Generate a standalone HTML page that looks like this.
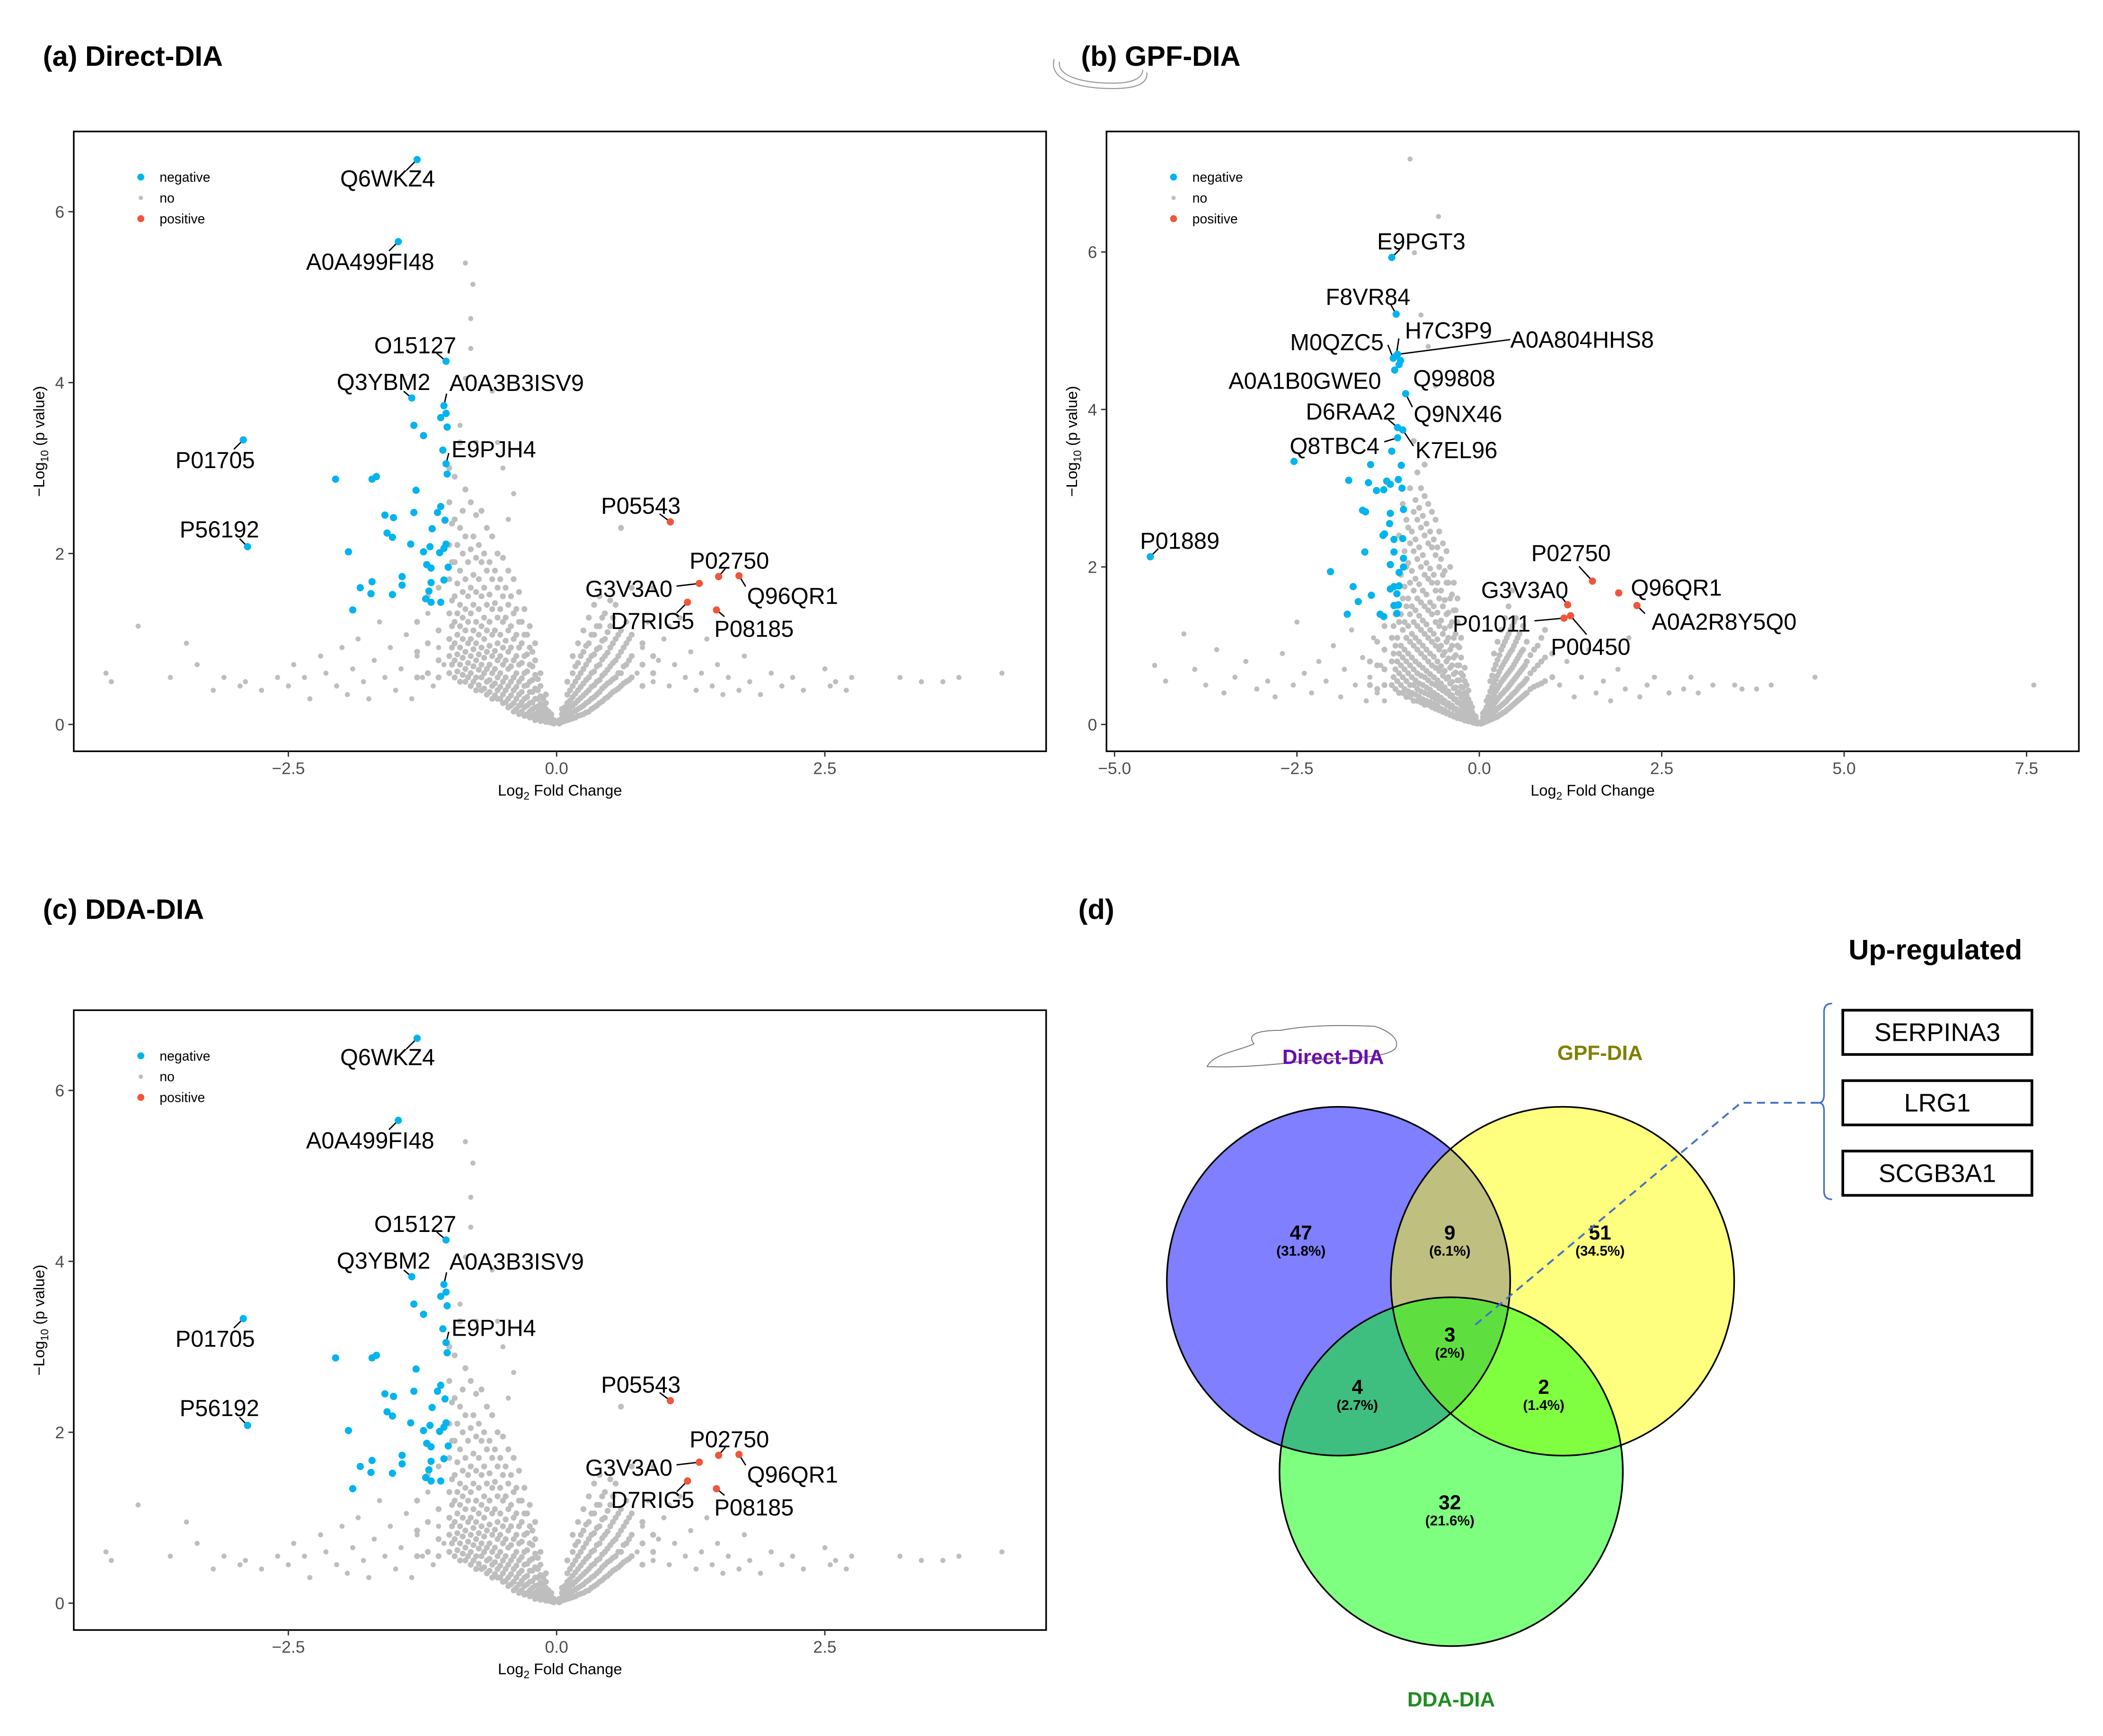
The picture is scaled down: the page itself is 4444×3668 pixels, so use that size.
<!DOCTYPE html>
<html><head><meta charset="utf-8">
<style>
html,body{margin:0;padding:0;background:#fff;}
svg{display:block;}
text{font-family:"Liberation Sans",Arial,sans-serif;}
</style></head>
<body>
<svg id="fig" xmlns="http://www.w3.org/2000/svg" width="4444" height="3668" viewBox="0 0 1568 1294" preserveAspectRatio="none">
<rect x="0" y="0" width="1568" height="1294" fill="#fff"/>
<text x="32" y="49" font-size="21" font-weight="bold">(a)  Direct-DIA</text>
<text x="806" y="49" font-size="21" font-weight="bold">(b)  GPF-DIA</text>
<text x="32" y="685" font-size="21" font-weight="bold">(c)  DDA-DIA</text>
<text x="804" y="685" font-size="21" font-weight="bold">(d)</text>
<path d="M786 44 C782 58 800 66 830 66 C848 66 856 62 855 54 M790 46 C788 56 805 62 830 62 C845 62 852 58 852 52" stroke="#999" stroke-width="0.8" fill="none"/>
<g id="pa"></g><g id="pb"></g><g id="pc"></g><g id="pd"></g>
</svg>
<script>
const NS='http://www.w3.org/2000/svg';
function mk(tag,attrs,parent){const e=document.createElementNS(NS,tag);for(const k in attrs)e.setAttribute(k,attrs[k]);parent.appendChild(e);return e;}

/* ---------- Panel A / C data (Direct-DIA, DDA-DIA) ---------- */
const xTicksA=[-2.5,0.0,2.5];
const xTickLabelsA=['\u22122.5','0.0','2.5'];
const yTicksA=[0,2,4,6];
const negA_x=[-1.08,-1.03,-1.02,-1.33,-1.24,-1.06,-1.02,-2.06,-1.72,-1.68,-1.31,-1.08,-1.11,-1.33,-1.60,-1.52,-1.04,-1.16,-1.58,-1.53,-1.36,-1.03,-1.05,-1.18,-1.09,-1.24,-1.94,-1.21,-1.17,-1.01,-1.44,-1.44,-1.72,-1.83,-1.05,-1.17,-1.19,-1.73,-1.53,-1.22,-1.17,-1.08,-1.90];
const negA_y=[3.59,3.64,3.48,3.50,3.38,3.21,2.93,2.87,2.87,2.90,2.74,2.55,2.48,2.48,2.45,2.42,2.39,2.29,2.24,2.19,2.11,2.11,2.06,2.08,2.01,2.02,2.02,1.87,1.83,1.84,1.73,1.63,1.67,1.60,1.69,1.66,1.56,1.53,1.52,1.47,1.43,1.43,1.34];
const labA_names=['Q6WKZ4','A0A499FI48','O15127','Q3YBM2','A0A3B3ISV9','E9PJH4','P01705','P56192','P05543','P02750','Q96QR1','G3V3A0','D7RIG5','P08185'];
const labA_x=[-1.30,-1.475,-1.03,-1.35,-1.05,-1.03,-2.92,-2.88,1.06,1.51,1.70,1.33,1.22,1.49];
const labA_y=[6.61,5.65,4.25,3.82,3.73,3.05,3.33,2.08,2.37,1.73,1.74,1.65,1.43,1.34];
const labA_type=['neg','neg','neg','neg','neg','neg','neg','neg','pos','pos','pos','pos','pos','pos'];
const labA_off=[[-22,14,'middle',-8,8],[-21,15,'middle',-7,7],[-23,-12,'middle',-7,-6],[-21,-12,'middle',-6,-5],[4,-17,'start',2,-9],[4,-11,'start',2,-8],[-21,15,'middle',-7,7],[-21,-13,'middle',-6,-6],[-22,-12,'middle',-8,-6],[8,-12,'middle',5,-6],[6,15,'start',5,8],[-20,4,'end',-17,2],[-26,14,'middle',-8,8],[28,14,'middle',6,5]];
const grayColsA_x=[-1.0,-0.95,-0.9,-0.85,-0.8,-0.75,-0.7,-0.65,-0.6,-0.55,-0.5,-0.45,-0.4,-0.35,-0.3,-0.25,-0.2,-0.15,-0.1,-0.05,0.05,0.1,0.15,0.2,0.25,0.3,0.35,0.4,0.45,0.5,0.55,0.6,0.65,0.7];
const grayColsA_y=[
[0.6,0.8,1.0,1.3,1.7,2.1,2.6,3.0],[0.55,0.75,0.95,1.2,1.5,1.9,2.4,2.9],[0.5,0.7,0.9,1.15,1.4,1.8,2.3,3.3],[0.5,0.65,0.85,1.1,1.35,1.7,2.2,2.75],
[0.45,0.6,0.8,1.0,1.3,1.6,2.05,2.6],[0.4,0.55,0.75,0.95,1.2,1.55,1.95,2.45],[0.4,0.55,0.7,0.9,1.15,1.5,1.9,2.5],[0.35,0.5,0.65,0.85,1.1,1.4,1.8,2.3],
[0.3,0.45,0.6,0.8,1.05,1.35,1.7,2.2],[0.3,0.4,0.55,0.75,0.95,1.25,1.6,2.0],[0.25,0.35,0.5,0.7,0.9,1.2,1.5,1.95],[0.2,0.3,0.45,0.65,0.85,1.1,1.4,1.8],
[0.15,0.25,0.4,0.55,0.75,1.0,1.3,1.7],[0.12,0.22,0.35,0.5,0.7,0.9,1.2,1.55],[0.1,0.2,0.3,0.45,0.6,0.8,1.05,1.35],[0.08,0.15,0.25,0.38,0.5,0.7,0.9,1.15],
[0.05,0.12,0.2,0.3,0.42,0.58,0.75,0.95],[0.04,0.1,0.16,0.24,0.33,0.45,0.6],[0.03,0.07,0.12,0.18,0.25,0.35],[0.02,0.05,0.08,0.12],
[0.03,0.07,0.12,0.18],[0.05,0.1,0.17,0.25,0.35,0.5],[0.07,0.14,0.22,0.32,0.45,0.6,0.8],[0.1,0.18,0.28,0.4,0.55,0.72,0.95],
[0.12,0.22,0.34,0.48,0.65,0.85,1.1],[0.15,0.27,0.4,0.55,0.75,0.95,1.25],[0.2,0.32,0.46,0.62,0.82,1.05,1.4],[0.25,0.38,0.52,0.7,0.9,1.15,1.5],
[0.3,0.45,0.6,0.8,1.0,1.3],[0.35,0.5,0.68,0.9,1.15,1.45],[0.4,0.55,0.75,1.0,1.4],[0.45,0.6,0.85,1.1,2.3],[0.5,0.7,0.95,1.2],[0.55,0.8,1.05,1.6]];
const grayColsA2_x=[-1.3,-1.2,-1.1,-0.975,-0.925,-0.875,-0.825,-0.775,-0.725,-0.675,-0.625,-0.575,-0.525,-0.475,-0.425,-0.375,-0.325,-0.275,-0.225,-0.175,-0.125,-0.075,-0.025,0.025,0.075,0.125,0.175,0.225,0.275,0.325,0.375,0.425,0.475,0.525,0.575,0.625,0.675,0.8,0.9];
const grayColsA2_y=[
[0.55,0.85,1.2],[0.6,0.95,1.5],[0.55,0.75,1.1,1.6],[0.7,0.9,1.15,1.45,1.9,2.35],[0.62,0.82,1.05,1.3,1.65,2.1],[0.58,0.78,1.0,1.25,1.55,2.0,2.5],[0.55,0.72,0.95,1.2,1.5,1.9],
[0.5,0.68,0.88,1.1,1.4,1.75,2.2],[0.46,0.64,0.82,1.05,1.35,1.7,2.1],[0.42,0.6,0.78,1.0,1.25,1.6,2.0],[0.38,0.52,0.7,0.92,1.2,1.52,1.9],[0.34,0.48,0.65,0.86,1.1,1.42,1.8],
[0.3,0.44,0.6,0.8,1.05,1.35,1.7],[0.26,0.4,0.55,0.75,0.98,1.25,1.6],[0.22,0.34,0.5,0.68,0.9,1.15,1.5],[0.18,0.3,0.44,0.6,0.8,1.05,1.35],[0.15,0.26,0.38,0.54,0.72,0.95,1.2],
[0.12,0.22,0.32,0.46,0.62,0.82,1.05],[0.1,0.18,0.26,0.38,0.52,0.68,0.85],[0.07,0.14,0.21,0.3,0.4,0.53],[0.05,0.1,0.15,0.22,0.3],[0.03,0.06,0.1,0.15],[0.01,0.03,0.05],
[0.01,0.03,0.05],[0.04,0.08,0.13,0.2],[0.06,0.12,0.2,0.28,0.4],[0.08,0.16,0.25,0.36,0.5,0.68],[0.11,0.2,0.31,0.44,0.6,0.8],[0.14,0.25,0.37,0.52,0.7,0.92],
[0.18,0.3,0.44,0.6,0.8,1.05],[0.22,0.35,0.5,0.68,0.88,1.15],[0.27,0.42,0.57,0.76,0.98,1.25],[0.32,0.48,0.64,0.84,1.08],[0.38,0.53,0.72,0.95,1.25],
[0.42,0.6,0.8,1.05],[0.48,0.68,0.9],[0.52,0.75,1.0],[0.45,0.7,0.95],[0.6,0.8]];
const graySparseA_x=[-4.2,-4.15,-3.9,-3.6,-3.45,-3.35,-3.2,-3.1,-2.95,-2.9,-2.75,-2.6,-2.5,-2.45,-2.35,-2.3,-2.2,-2.15,-2.05,-2.0,-1.95,-1.9,-1.85,-1.8,-1.75,-1.7,-1.65,-1.6,-1.55,-1.5,-1.45,-1.4,-1.35,-1.3,-1.25,-1.2,-1.15,-1.1,-1.05,-0.85,-0.78,-0.8,-0.8,-0.85,-0.6,-0.55,-0.75,-0.5,-0.9,-0.4,-0.45,0.75,0.8,0.85,0.9,0.95,1.0,1.05,1.1,1.15,1.2,1.25,1.3,1.35,1.4,1.45,1.5,1.55,1.6,1.7,1.75,1.8,1.9,2.0,2.1,2.2,2.3,2.5,2.55,2.6,2.7,2.75,3.2,3.4,3.6,3.75,4.15,0.9,1.05];
const graySparseA_y=[0.6,0.5,1.15,0.55,0.95,0.7,0.4,0.55,0.45,0.5,0.4,0.55,0.45,0.7,0.55,0.3,0.8,0.6,0.45,0.9,0.35,0.65,1.0,0.5,0.3,0.75,1.2,0.55,0.9,0.4,0.65,1.05,0.3,0.8,0.55,1.3,0.45,0.9,0.7,5.4,5.15,4.75,4.4,4.05,3.9,3.3,3.3,3.0,3.5,2.7,2.4,0.6,0.9,1.2,0.5,0.75,1.0,0.45,0.7,1.25,0.55,0.85,0.4,0.6,1.0,0.45,0.7,0.35,0.55,0.4,0.8,0.5,0.35,0.6,0.45,0.55,0.4,0.65,0.45,0.5,0.4,0.55,0.55,0.5,0.5,0.55,0.6,1.6,1.15];

/* ---------- Panel B data (GPF-DIA) ---------- */
const xTicksB=[-5.0,-2.5,0.0,2.5,5.0,7.5];
const xTickLabelsB=['\u22125.0','\u22122.5','0.0','2.5','5.0','7.5'];
const yTicksB=[0,2,4,6];
const negB_x=[-1.10,-1.20,-2.54,-1.49,-1.07,-1.79,-1.52,-1.27,-1.11,-1.22,-1.31,-1.41,-1.06,-1.04,-1.60,-1.56,-1.22,-1.23,-1.30,-1.32,-1.17,-1.05,-1.57,-1.17,-1.04,-1.22,-1.04,-1.10,-2.04,-1.73,-1.17,-1.10,-1.22,-1.13,-1.48,-1.66,-1.17,-1.11,-1.81,-1.36,-1.13,-1.31];
const negB_y=[4.57,3.47,3.34,3.30,3.29,3.10,3.07,3.09,3.11,3.05,2.98,2.97,3.00,2.73,2.72,2.70,2.68,2.55,2.42,2.40,2.35,2.36,2.19,2.19,2.11,2.03,2.00,1.93,1.94,1.75,1.75,1.76,1.72,1.66,1.64,1.56,1.51,1.52,1.40,1.40,1.41,1.37];
const labB_names=['E9PGT3','F8VR84','H7C3P9','M0QZC5','A0A804HHS8','A0A1B0GWE0','Q99808','Q9NX46','D6RAA2','K7EL96','Q8TBC4','P01889','P02750','Q96QR1','A0A2R8Y5Q0','G3V3A0','P01011','P00450'];
const labB_x=[-1.20,-1.14,-1.14,-1.18,-1.12,-1.16,-1.08,-1.01,-1.12,-1.05,-1.12,-4.51,1.55,1.91,2.16,1.21,1.16,1.25];
const labB_y=[5.93,5.21,4.68,4.65,4.70,4.50,4.62,4.20,3.77,3.74,3.64,2.13,1.82,1.67,1.51,1.52,1.35,1.38];
const labB_type=['neg','neg','neg','neg','neg','neg','neg','neg','neg','neg','neg','neg','pos','pos','pos','pos','pos','pos'];
const labB_off=[[22,-12,'middle',6,-6],[-21,-13,'middle',-4,-7],[39,-19,'middle',2,-13],[-42,-12,'middle',-4,-10],[84,-11,'start',84,-11],[-67,8,'middle',0,0],[40,13,'middle',0,0],[39,15,'middle',5,10],[-35,-12,'middle',-7,-6],[40,15,'middle',8,12],[-47,6,'middle',-10,3],[22,-12,'middle',6,-6],[-16,-21,'middle',-10,-11],[43,-4,'middle',0,0],[65,12,'middle',6,6],[-32,-11,'middle',-4,-5],[-25,4,'end',-22,2],[15,23,'middle',12,14]];
const grayColsB_x=[-1.2,-1.15,-1.1,-1.05,-1.0,-0.95,-0.9,-0.85,-0.8,-0.75,-0.7,-0.65,-0.6,-0.55,-0.5,-0.45,-0.4,-0.35,-0.3,-0.25,-0.2,-0.15,-0.1,-0.05,0.05,0.1,0.15,0.2,0.25,0.3,0.35,0.4,0.45,0.5,0.55,0.6,0.65,0.7,0.8,0.9,1.0];
const grayColsB_y=[
[0.5,0.8,1.1],[0.45,0.7,1.0,1.4],[0.4,0.65,0.9,1.3,2.4],[0.4,0.6,0.85,1.2,1.6,2.8],[0.35,0.55,0.8,1.1,1.5,2.0,2.6],
[0.35,0.5,0.75,1.05,1.4,1.8,2.3,3.0],[0.3,0.5,0.7,1.0,1.3,1.7,2.2,2.7,3.6],[0.3,0.45,0.65,0.95,1.25,1.6,2.1,2.6,3.2],[0.28,0.42,0.62,0.9,1.2,1.55,2.0,2.5,3.0],
[0.25,0.4,0.6,0.85,1.15,1.5,1.9,2.4,2.9,3.3],[0.25,0.38,0.56,0.8,1.1,1.45,1.85,2.3,2.8],[0.22,0.35,0.52,0.75,1.05,1.4,1.8,2.25,2.7],[0.2,0.32,0.5,0.72,1.0,1.3,1.7,2.15,2.6],
[0.18,0.3,0.46,0.68,0.95,1.25,1.6,2.0,2.45],[0.16,0.28,0.43,0.62,0.88,1.15,1.5,1.9,2.3],[0.14,0.25,0.4,0.58,0.8,1.05,1.4,1.8,2.2],[0.12,0.22,0.36,0.52,0.72,0.95,1.25,1.6,2.0],
[0.1,0.2,0.32,0.46,0.64,0.85,1.1,1.45,1.8],[0.08,0.17,0.28,0.4,0.56,0.75,1.0,1.3,1.6],[0.07,0.14,0.24,0.35,0.48,0.65,0.85,1.1],[0.05,0.12,0.2,0.29,0.4,0.55,0.72],
[0.04,0.09,0.15,0.23,0.32,0.43],[0.03,0.06,0.1,0.16,0.22],[0.02,0.04,0.07,0.1],
[0.02,0.05,0.09,0.14],[0.04,0.09,0.15,0.22,0.3],[0.06,0.12,0.2,0.3,0.42,0.55],[0.08,0.16,0.26,0.38,0.52,0.7,0.9],[0.1,0.2,0.32,0.46,0.62,0.82,1.05],
[0.13,0.24,0.38,0.54,0.72,0.95,1.2],[0.16,0.28,0.43,0.6,0.8,1.05,1.35],[0.2,0.33,0.48,0.66,0.88,1.15,1.5],[0.24,0.38,0.54,0.72,0.95,1.25,1.7],
[0.28,0.42,0.6,0.8,1.05,1.35],[0.32,0.48,0.66,0.88,1.15],[0.36,0.52,0.72,0.95,1.25],[0.4,0.58,0.8,1.05],[0.45,0.65,0.88],[0.5,0.75,1.0],[0.55,0.85,1.2],[0.6,0.9]];
const grayColsB2_x=[-1.5,-1.4,-1.3,-1.175,-1.125,-1.075,-1.025,-0.975,-0.925,-0.875,-0.825,-0.775,-0.725,-0.675,-0.625,-0.575,-0.525,-0.475,-0.425,-0.375,-0.325,-0.275,-0.225,-0.175,-0.125,-0.075,-0.025,0.025,0.075,0.125,0.175,0.225,0.275,0.325,0.375,0.425,0.475,0.525,0.575,0.625,0.75,0.85];
const grayColsB2_y=[
[0.5,0.8],[0.45,0.75,1.05],[0.5,0.7,0.95,1.25],[0.6,0.9,1.25],[0.55,0.8,1.1,1.5],[0.5,0.75,1.0,1.4,1.9],[0.45,0.7,0.95,1.3,1.75,2.2],[0.42,0.65,0.9,1.25,1.6,2.05,2.5],
[0.4,0.6,0.85,1.15,1.5,1.95,2.45],[0.38,0.56,0.8,1.1,1.45,1.85,2.35,2.85],[0.35,0.52,0.76,1.05,1.38,1.78,2.25,2.75],[0.32,0.5,0.72,1.0,1.32,1.7,2.15,2.65],
[0.3,0.47,0.68,0.95,1.27,1.65,2.05,2.55],[0.28,0.44,0.64,0.9,1.2,1.55,1.98,2.45],[0.26,0.4,0.6,0.86,1.15,1.5,1.9,2.35],[0.24,0.37,0.56,0.8,1.08,1.42,1.8,2.25],
[0.2,0.34,0.52,0.74,1.0,1.32,1.7,2.1],[0.18,0.3,0.47,0.68,0.92,1.22,1.58,1.95],[0.15,0.27,0.42,0.6,0.84,1.1,1.42,1.8],[0.13,0.24,0.37,0.54,0.75,1.0,1.3,1.65],
[0.11,0.2,0.32,0.47,0.66,0.88,1.15,1.45],[0.09,0.17,0.28,0.41,0.56,0.75,0.98],[0.07,0.14,0.23,0.34,0.47,0.62],[0.05,0.11,0.18,0.27,0.37,0.5],[0.04,0.08,0.13,0.19,0.27],[0.02,0.05,0.08,0.12],[0.01,0.03],
[0.01,0.03],[0.03,0.07,0.11,0.17],[0.05,0.1,0.17,0.25,0.35],[0.07,0.14,0.23,0.34,0.47,0.62],[0.09,0.18,0.29,0.42,0.57,0.76],[0.12,0.22,0.35,0.5,0.67,0.88],
[0.15,0.26,0.4,0.57,0.76,1.0],[0.18,0.3,0.45,0.63,0.84,1.1],[0.22,0.35,0.51,0.69,0.92,1.2],[0.26,0.4,0.57,0.76,1.0,1.3],[0.3,0.45,0.63,0.84,1.1],[0.34,0.5,0.69,0.92],[0.38,0.55,0.75],[0.48,0.7,0.95],[0.52,0.8,1.1]];
const graySparseB_x=[-4.45,-4.3,-4.05,-3.9,-3.75,-3.6,-3.5,-3.35,-3.2,-3.05,-2.9,-2.8,-2.7,-2.55,-2.5,-2.4,-2.3,-2.2,-2.1,-2.0,-1.9,-1.85,-1.75,-1.7,-1.6,-1.55,-1.5,-1.45,-1.4,-1.35,-1.3,-0.95,-0.56,-0.89,-0.8,-0.7,-0.6,1.1,1.2,1.3,1.4,1.5,1.6,1.7,1.8,1.9,2.0,2.2,2.3,2.4,2.6,2.8,2.9,3.0,3.2,3.5,3.6,3.8,4.0,4.6,7.6,2.05];
const graySparseB_y=[0.75,0.55,1.15,0.7,0.5,0.95,0.4,0.6,0.8,0.45,0.55,0.35,0.9,0.5,1.3,0.65,0.4,0.8,0.55,1.0,0.35,0.7,1.2,0.5,0.85,0.3,0.6,1.1,0.4,0.75,0.3,7.18,6.45,5.99,5.2,4.8,4.3,0.5,0.8,0.35,0.6,0.95,0.4,0.55,0.3,0.7,0.45,0.35,0.5,0.6,0.4,0.45,0.6,0.4,0.5,0.5,0.45,0.45,0.5,0.6,0.5,1.1];

/* ---------- Venn data ---------- */
const vennCounts=[47,9,51,3,4,2,32];
const vennPercents=['31.8%','6.1%','34.5%','2%','2.7%','1.4%','21.6%'];
const upGenes=['SERPINA3','LRG1','SCGB3A1'];

function volcano(root,cfg){
  const B=cfg.box;
  const sx=v=>cfg.x0+cfg.kx*v, sy=v=>cfg.y0-cfg.ky*v;
  const frame=mk('rect',{x:B[0],y:B[1],width:B[2]-B[0],height:B[3]-B[1],fill:'none',stroke:'#000','stroke-width':1.2},root);
  
  
  cfg.xt.forEach((t,i)=>{
    const ln=mk('line',{x1:sx(t),x2:sx(t),y1:B[3],y2:B[3]+4,stroke:'#333','stroke-width':1},root);
    
    
    const tx=mk('text',{x:sx(t),y:B[3]+17,'font-size':12.5,'text-anchor':'middle',fill:'#4d4d4d'},root);
    tx.textContent=cfg.xtl[i];
    
    
  });
  cfg.yt.forEach(t=>{
    const ln=mk('line',{x1:B[0]-4,x2:B[0],y1:sy(t),y2:sy(t),stroke:'#333','stroke-width':1},root);
    
    
    const tx=mk('text',{x:B[0]-7,y:sy(t)+4.5,'font-size':12.5,'text-anchor':'end',fill:'#4d4d4d'},root);
    tx.textContent=String(t);
    
    
  });
  const xt=mk('text',{x:(B[0]+B[2])/2,y:B[3]+33,'font-size':11.5,'text-anchor':'middle'},root);
  xt.innerHTML='Log<tspan font-size="8" dy="3">2</tspan><tspan dy="-3"> Fold Change</tspan>';
  
  
  const yc=(B[1]+B[3])/2;
  const yt=mk('text',{x:B[0]-22,y:yc,'font-size':11.5,'text-anchor':'middle',transform:`rotate(-90 ${B[0]-22} ${yc})`},root);
  yt.innerHTML='\u2212Log<tspan font-size="8" dy="3">10</tspan><tspan dy="-3"> (p value)</tspan>';
  
  
  const gg=mk('g',{fill:'#bebebe'},root);
  
  
  const drawCols=(xs,ys)=>xs.forEach((x,i)=>ys[i].forEach(y=>{
    const c=mk('circle',{cx:sx(x),cy:sy(y),r:2.2},gg);
    
    
  }));
  drawCols(cfg.gcx,cfg.gcy);
  drawCols(cfg.gcx2,cfg.gcy2);
  cfg.gsx.forEach((x,i)=>{
    const c=mk('circle',{cx:sx(x),cy:sy(cfg.gsy[i]),r:1.9},gg);
    
    
  });
  cfg.nx.forEach((x,i)=>{
    const c=mk('circle',{cx:sx(x),cy:sy(cfg.ny[i]),r:2.7,fill:'#00b4ef'},root);
    
    
  });
  cfg.ln.forEach((n,i)=>{
    const px=sx(cfg.lx[i]),py=sy(cfg.ly[i]),o=cfg.lo[i];
    if(o[3]||o[4]){
      const l=mk('line',{x1:px,y1:py,x2:px+o[3],y2:py+o[4],stroke:'#000','stroke-width':1},root);
      
      
    }
    const c=mk('circle',{cx:px,cy:py,r:2.7,fill:cfg.lt[i]==='pos'?'#f1553c':'#00b4ef'},root);
    
    
    const t=mk('text',{x:px+o[0],y:py+o[1]+6,'font-size':17.2,'text-anchor':o[2]},root);
    t.textContent=n;
    
    
  });
  const lg=mk('g',{},root);
  
  
  [['negative','#00b4ef',2.6],['no','#bebebe',1.6],['positive','#f1553c',2.6]].forEach((e,i)=>{
    const y=B[1]+34+i*15.5;
    const c=mk('circle',{cx:B[0]+50,cy:y,r:e[2],fill:e[1]},lg);
    
    
    const t=mk('text',{x:B[0]+64,y:y+3.5,'font-size':10},lg);
    t.textContent=e[0];
    
    
  });
}
const cfgA=(dy)=>({box:[55,98+dy,780,560+dy],x0:415,kx:80,y0:540+dy,ky:63.7,xt:xTicksA,xtl:xTickLabelsA,yt:yTicksA,
  gcx:grayColsA_x,gcy:grayColsA_y,gcx2:grayColsA2_x,gcy2:grayColsA2_y,gsx:graySparseA_x,gsy:graySparseA_y,nx:negA_x,ny:negA_y,ln:labA_names,lx:labA_x,ly:labA_y,lt:labA_type,lo:labA_off});
const pa=document.getElementById('pa');


volcano(pa,cfgA(0));
const pc=document.getElementById('pc');


volcano(pc,cfgA(655));
const pb=document.getElementById('pb');


volcano(pb,{box:[825,98,1550,560],x0:1103,kx:54.4,y0:540,ky:58.7,xt:xTicksB,xtl:xTickLabelsB,yt:yTicksB,
  gcx:grayColsB_x,gcy:grayColsB_y,gcx2:grayColsB2_x,gcy2:grayColsB2_y,gsx:graySparseB_x,gsy:graySparseB_y,nx:negB_x,ny:negB_y,ln:labB_names,lx:labB_x,ly:labB_y,lt:labB_type,lo:labB_off});

/* ---------- Venn ---------- */
const pd=document.getElementById('pd');


const circ=[[998,955,'#0000ff','set-direct-dia'],[1165,955,'#ffff00','set-gpf-dia'],[1082,1097,'#00ff00','set-dda-dia']];
circ.forEach(c=>{
  const e=mk('ellipse',{cx:c[0],cy:c[1],rx:128,ry:130,fill:c[2],'fill-opacity':0.5},pd);
  
  
});
circ.forEach(c=>{
  const e=mk('ellipse',{cx:c[0],cy:c[1],rx:128,ry:130,fill:'none',stroke:'#000','stroke-width':1.2},pd);
  
  
});
const regPos=[[970,918],[1081,918],[1193,918],[1081,994],[1012,1033],[1151,1033],[1081,1119]];
vennCounts.forEach((v,i)=>{
  const t=mk('text',{x:regPos[i][0],y:regPos[i][1]+6,'font-size':15,'font-weight':'bold','text-anchor':'middle'},pd);
  t.textContent=String(v);
  
  
  const p=mk('text',{x:regPos[i][0],y:regPos[i][1]+18,'font-size':10.5,'font-weight':'bold','text-anchor':'middle'},pd);
  p.textContent='('+vennPercents[i]+')';
  
  
});
const scr=mk('path',{d:'M900 795 C905 785 925 783 935 778 C930 772 935 768 955 768 C975 764 1000 764 1025 765 C1035 768 1045 775 1040 782 C1030 790 1000 788 980 790 C950 794 920 796 900 795 Z',fill:'none',stroke:'#777','stroke-width':0.7},pd);


[['Direct-DIA',994,793,'#6a0dad','label-direct-dia'],['GPF-DIA',1193,790,'#808000','label-gpf-dia'],['DDA-DIA',1082,1272,'#1e8c1e','label-dda-dia']].forEach(s=>{
  const t=mk('text',{x:s[1],y:s[2],'font-size':15.5,'font-weight':'bold','text-anchor':'middle',fill:s[3]},pd);
  t.textContent=s[0];
  
  
});
const up=mk('text',{x:1443,y:715,'font-size':21,'font-weight':'bold','text-anchor':'middle'},pd);
up.textContent='Up-regulated';


upGenes.forEach((g,i)=>{
  const y=753+i*52.5;
  const r=mk('rect',{x:1374,y:y,width:141,height:33,fill:'#fff',stroke:'#000','stroke-width':2},pd);
  
  
  const t=mk('text',{x:1444.5,y:y+23,'font-size':19,'text-anchor':'middle'},pd);
  t.textContent=g;
  
  
});
const br=mk('path',{d:'M1366 748 Q1360 748 1360 754 L1360 816 Q1360 822 1356 822 Q1360 822 1360 828 L1360 888 Q1360 894 1366 894',fill:'none',stroke:'#4472c4','stroke-width':1.2},pd);


const dl=mk('path',{d:'M1356 822 L1298 822 L1097 990',fill:'none',stroke:'#4472c4','stroke-width':1.4,'stroke-dasharray':'6 4'},pd);


</script>
</body></html>
